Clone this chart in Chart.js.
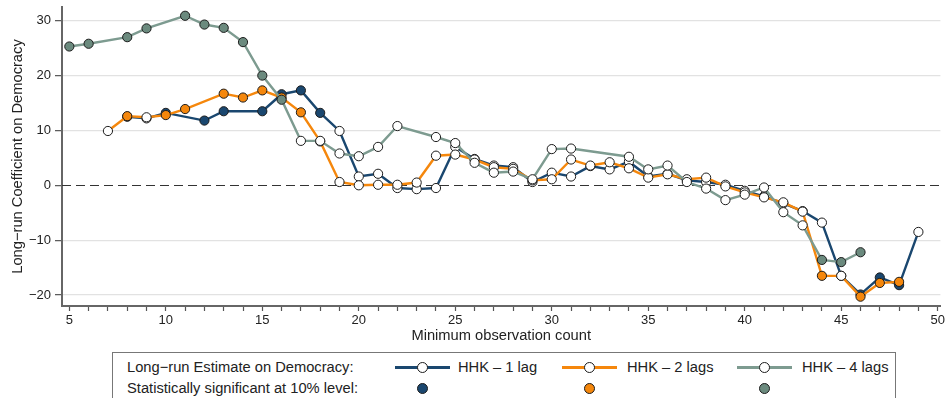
<!DOCTYPE html>
<html>
<head>
<meta charset="utf-8">
<script src="https://cdn.jsdelivr.net/npm/chart.js@4.4.1/dist/chart.umd.min.js"></script>
<style>
  html, body { margin: 0; padding: 0; background: #fff; }
  #wrap { position: relative; width: 946px; height: 398px; overflow: hidden;
          font-family: "Liberation Sans", Arial, Helvetica, sans-serif; color: #222; }
  #chart { position: absolute; left: 0; top: 0; }
  .legend-box { position: absolute; left: 112px; top: 352px; width: 784px; height: 64px;
                border: 1.5px solid #777; box-sizing: border-box; background: #fff; }
  .lg-text { position: absolute; font-size: 14.7px; line-height: 18px; white-space: nowrap; color: #222; }
  .lg-line { position: absolute; height: 3px; width: 55px; }
  .lg-dot { position: absolute; width: 9px; height: 9px; border-radius: 50%;
            border: 1px solid #1c1c1c; }
</style>
</head>
<body>
<div id="wrap">
  <canvas id="chart" width="946" height="398"></canvas>
  <div class="legend-box"></div>
  <div id="legend"></div>
</div>
<script>
// Minimum observation count (x) and long-run estimates per specification
const minObs = [5, 6, 7, 8, 9, 10, 11, 12, 13, 14, 15, 16, 17, 18, 19, 20, 21, 22, 23, 24, 25, 26, 27,
                28, 29, 30, 31, 32, 33, 34, 35, 36, 37, 38, 39, 40, 41, 42, 43, 44, 45, 46, 47, 48, 49];

const hhk1 = [null, null, null, 12.5, 12.2, 13.2, null, 11.8, 13.5, null, 13.5, 16.6, 17.3, 13.2, 9.9,
              1.6, 2.1, -0.5, -0.7, -0.5, 7.0, 4.8, 3.6, 3.3, 0.6, 2.3, 1.6, 3.5, 2.9, 4.3, 1.6, 2.1,
              0.9, 0.6, 0.1, -1.0, -2.0, -3.3, -4.7, -6.8, -16.5, -19.9, -16.8, -18.2, -8.5];

const hhk2 = [null, null, 9.9, 12.6, 12.4, 12.8, 13.9, null, 16.7, 16.0, 17.3, 16.0, 13.3, 8.0, 0.6,
              0.0, 0.1, 0.1, 0.5, 5.4, 5.6, 4.7, 3.3, 3.0, 0.9, 1.1, 4.7, 3.6, 4.2, 3.1, 1.4, 2.0,
              1.1, 1.4, -0.2, -1.3, -2.2, -3.1, -4.8, -16.5, -16.5, -20.3, -17.8, -17.6, null];

const hhk4 = [25.3, 25.8, null, 27.0, 28.6, null, 30.9, 29.3, 28.7, 26.1, 20.0, 15.6, 8.1, 8.1, 5.8,
              5.3, 7.0, 10.8, null, 8.8, 7.7, 4.1, 2.3, 2.5, 1.1, 6.6, 6.7, null, null, 5.2, 2.9, 3.6,
              0.6, -0.6, -2.7, -1.7, -0.4, -4.9, -7.3, -13.6, -14.0, -12.2, null, null, null];

// Observation counts at which each estimate is significant at the 10% level
const sig1 = [8, 10, 12, 13, 15, 16, 17, 18, 46, 47, 48];
const sig2 = [8, 10, 11, 13, 14, 15, 16, 17, 44, 46, 47, 48];
const sig4 = [5, 6, 8, 9, 11, 12, 13, 14, 15, 16, 44, 45, 46];

const seriesNames = ['HHK \u2013 1 lag', 'HHK \u2013 2 lags', 'HHK \u2013 4 lags'];
const yTickValues = [-20, -10, 0, 10, 20, 30];
const xTickValues = [5, 6, 7, 8, 9, 10, 11, 12, 13, 14, 15, 16, 17, 18, 19, 20, 21, 22, 23, 24, 25, 26, 27,
                     28, 29, 30, 31, 32, 33, 34, 35, 36, 37, 38, 39, 40, 41, 42, 43, 44, 45, 46, 47, 48, 49, 50];

const COLORS = [
  { line: '#1a476f', fill: '#1a476f' },
  { line: '#f5870c', fill: '#f5870c' },
  { line: '#7d9b90', fill: '#6b8a7e' }
];

const FONT = '"Liberation Sans", Arial, Helvetica, sans-serif';

function makeSeries(label, values, sig, color, order) {
  return {
    label,
    data: minObs.map((x, i) => ({ x: x, y: values[i] })),
    borderColor: color.line,
    borderWidth: 2.4,
    pointRadius: 4.6,
    pointBorderWidth: 1,
    pointBorderColor: '#1c1c1c',
    pointBackgroundColor: minObs.map(x => sig.includes(x) ? color.fill : '#ffffff'),
    spanGaps: true,
    tension: 0,
    order: order
  };
}

// Dashed reference line at zero
const zeroLine = {
  id: 'zeroLine',
  beforeDatasetsDraw(chart) {
    const { ctx, chartArea, scales } = chart;
    const py = Math.round(scales.y.getPixelForValue(0)) + 0.5;
    ctx.save();
    ctx.strokeStyle = '#333';
    ctx.lineWidth = 1.2;
    ctx.setLineDash([9, 5]);
    ctx.beginPath();
    ctx.moveTo(chartArea.left, py);
    ctx.lineTo(chartArea.right, py);
    ctx.stroke();
    ctx.restore();
  }
};

new Chart(document.getElementById('chart'), {
  type: 'line',
  data: {
    datasets: [
      makeSeries(seriesNames[0], hhk1, sig1, COLORS[0], 3),
      makeSeries(seriesNames[1], hhk2, sig2, COLORS[1], 2),
      makeSeries(seriesNames[2], hhk4, sig4, COLORS[2], 1)
    ]
  },
  options: {
    responsive: false,
    animation: false,
    devicePixelRatio: 1,
    layout: { padding: { top: 7, right: 0, bottom: 53, left: 0 } },
    plugins: { legend: { display: false }, tooltip: { enabled: false } },
    scales: {
      x: {
        type: 'linear',
        min: 4.62,
        max: 50.14,
        afterBuildTicks: s => { s.ticks = xTickValues.map(v => ({ value: v })); },
        afterFit: s => { s.height = 39; s.paddingLeft = 0; s.paddingRight = 0; },
        grid: { drawOnChartArea: false, drawTicks: true, tickLength: 5, tickColor: '#555', tickWidth: 1.2 },
        border: { display: true, color: '#666', width: 2 },
        ticks: {
          autoSkip: false, maxRotation: 0, padding: 2,
          color: '#222', font: { family: FONT, size: 13 },
          callback: v => (v % 5 === 0 ? String(v) : '')
        },
        title: {
          display: true, text: 'Minimum observation count',
          color: '#222', font: { family: FONT, size: 14.7 }, padding: { top: 0, bottom: 0 }
        }
      },
      y: {
        type: 'linear',
        min: -22,
        max: 32.5,
        afterBuildTicks: s => { s.ticks = yTickValues.map(v => ({ value: v })); },
        afterFit: s => { s.width = 62; s.paddingTop = 0; s.paddingBottom = 0; },
        grid: {
          color: c => (c.tick && c.tick.value === 0 ? 'rgba(0,0,0,0)' : '#e2e2e2'),
          lineWidth: 1.3,
          drawTicks: true, tickLength: 7, tickColor: '#555', tickWidth: 1.2
        },
        border: { display: true, color: '#666', width: 2 },
        ticks: {
          padding: 4, color: '#222', font: { family: FONT, size: 13 },
          callback: v => (v < 0 ? '\u2212' + Math.abs(v) : String(v))
        },
        title: {
          display: true, text: 'Long\u2212run Coefficient on Democracy',
          color: '#222', font: { family: FONT, size: 14.7 }, padding: { top: 9, bottom: 0 }
        }
      }
    }
  },
  plugins: [zeroLine]
});

// Two-row key: line style per specification, then the significance marker
(function buildLegend() {
  const host = document.getElementById('legend');
  const row1 = 367, row2 = 388;
  const lineStarts = [395, 562, 737];
  const textStarts = [458, 627, 802];
  function add(cls, css, text) {
    const el = document.createElement('div');
    el.className = cls;
    Object.assign(el.style, css);
    if (text) el.textContent = text;
    host.appendChild(el);
    return el;
  }
  add('lg-text', { left: '127px', top: (row1 - 9) + 'px' }, 'Long\u2212run Estimate on Democracy:');
  add('lg-text', { left: '127px', top: (row2 - 9) + 'px' }, 'Statistically significant at 10% level:');
  seriesNames.forEach((name, i) => {
    const x0 = lineStarts[i];
    const cx = x0 + 27.5;
    add('lg-line', { left: x0 + 'px', top: (row1 - 1.5) + 'px', background: COLORS[i].line });
    add('lg-dot', { left: (cx - 5.5) + 'px', top: (row1 - 5.5) + 'px', background: '#fff' });
    add('lg-text', { left: textStarts[i] + 'px', top: (row1 - 9) + 'px' }, name);
    add('lg-dot', { left: (cx - 5.5) + 'px', top: (row2 - 5.5) + 'px', background: COLORS[i].fill });
  });
})();
</script>
</body>
</html>
